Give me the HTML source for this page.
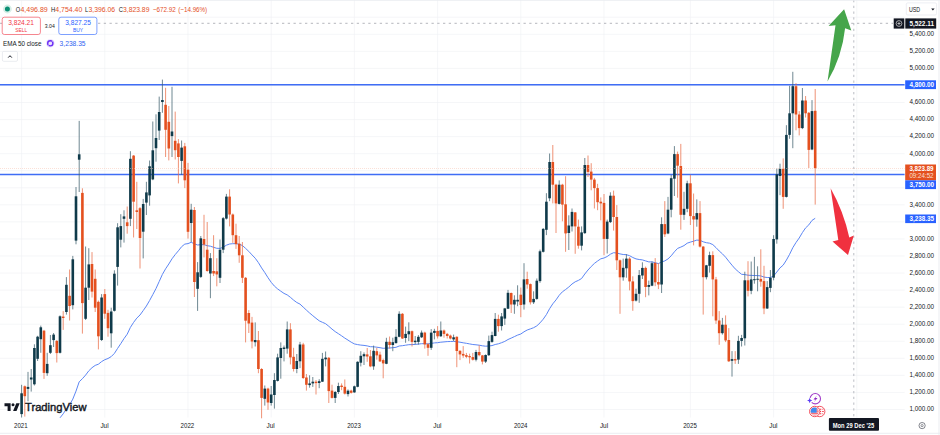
<!DOCTYPE html><html><head><meta charset="utf-8"><title>chart</title>
<style>html,body{margin:0;padding:0;background:#fff;}svg{display:block}text{font-family:"Liberation Sans",sans-serif;}</style></head><body>
<svg width="940" height="435" viewBox="0 0 940 435">
<rect width="940" height="435" fill="#ffffff"/>
<g stroke="#eef0f4" stroke-width="0.6" shape-rendering="auto">
<line x1="0" y1="409.49" x2="904.6" y2="409.49"/>
<line x1="0" y1="392.43" x2="904.6" y2="392.43"/>
<line x1="0" y1="375.38" x2="904.6" y2="375.38"/>
<line x1="0" y1="358.33" x2="904.6" y2="358.33"/>
<line x1="0" y1="341.27" x2="904.6" y2="341.27"/>
<line x1="0" y1="324.22" x2="904.6" y2="324.22"/>
<line x1="0" y1="307.16" x2="904.6" y2="307.16"/>
<line x1="0" y1="290.11" x2="904.6" y2="290.11"/>
<line x1="0" y1="273.06" x2="904.6" y2="273.06"/>
<line x1="0" y1="256.00" x2="904.6" y2="256.00"/>
<line x1="0" y1="238.95" x2="904.6" y2="238.95"/>
<line x1="0" y1="221.89" x2="904.6" y2="221.89"/>
<line x1="0" y1="204.84" x2="904.6" y2="204.84"/>
<line x1="0" y1="187.79" x2="904.6" y2="187.79"/>
<line x1="0" y1="170.73" x2="904.6" y2="170.73"/>
<line x1="0" y1="153.68" x2="904.6" y2="153.68"/>
<line x1="0" y1="136.62" x2="904.6" y2="136.62"/>
<line x1="0" y1="119.57" x2="904.6" y2="119.57"/>
<line x1="0" y1="102.52" x2="904.6" y2="102.52"/>
<line x1="0" y1="85.46" x2="904.6" y2="85.46"/>
<line x1="0" y1="68.41" x2="904.6" y2="68.41"/>
<line x1="0" y1="51.35" x2="904.6" y2="51.35"/>
<line x1="0" y1="34.30" x2="904.6" y2="34.30"/>
<line x1="0" y1="17.25" x2="904.6" y2="17.25"/>
<line x1="21.60" y1="0" x2="21.60" y2="417.5"/>
<line x1="104.80" y1="0" x2="104.80" y2="417.5"/>
<line x1="188.00" y1="0" x2="188.00" y2="417.5"/>
<line x1="271.20" y1="0" x2="271.20" y2="417.5"/>
<line x1="354.40" y1="0" x2="354.40" y2="417.5"/>
<line x1="437.60" y1="0" x2="437.60" y2="417.5"/>
<line x1="520.80" y1="0" x2="520.80" y2="417.5"/>
<line x1="604.00" y1="0" x2="604.00" y2="417.5"/>
<line x1="690.40" y1="0" x2="690.40" y2="417.5"/>
<line x1="773.60" y1="0" x2="773.60" y2="417.5"/>
<line x1="856.80" y1="0" x2="856.80" y2="417.5"/>
</g>
<line x1="0" y1="84.7" x2="904.6" y2="84.7" stroke="#3f6df5" stroke-width="1.4"/>
<line x1="0" y1="174.5" x2="904.6" y2="174.5" stroke="#3f6df5" stroke-width="1.4"/>
<path d="M60.0 417.8 L63.2 413.8 L66.4 408.8 L69.6 404.8 L72.8 399.1 L76.0 391.1 L79.2 381.8 L82.4 378.7 L85.6 375.1 L88.8 370.8 L92.0 367.7 L95.2 365.4 L98.4 364.2 L101.6 361.6 L104.8 359.7 L108.0 358.5 L111.2 356.6 L114.4 353.4 L117.6 348.4 L120.8 343.6 L124.0 338.6 L127.2 334.2 L130.4 327.4 L133.6 322.4 L136.8 318.1 L140.0 315.0 L143.2 310.6 L146.4 306.0 L149.6 300.5 L152.8 294.6 L156.0 288.5 L159.2 281.5 L162.4 274.4 L165.6 268.8 L168.8 264.0 L172.0 258.8 L175.2 254.6 L178.4 250.8 L181.6 246.7 L184.8 244.1 L188.0 243.6 L191.2 242.3 L194.4 243.8 L197.6 245.0 L200.8 244.7 L204.0 244.7 L207.2 245.7 L210.4 246.2 L213.6 247.3 L216.8 248.3 L220.0 248.4 L223.2 247.2 L226.4 245.2 L229.6 244.0 L232.8 243.7 L236.0 243.7 L239.2 244.2 L242.4 245.5 L245.6 248.4 L248.8 251.4 L252.0 254.9 L255.2 258.2 L258.4 262.6 L261.6 267.9 L264.8 272.6 L268.0 277.7 L271.2 282.3 L274.4 286.1 L277.6 288.9 L280.8 291.2 L284.0 293.4 L287.2 294.9 L290.4 297.3 L293.6 300.1 L296.8 302.5 L300.0 304.1 L303.2 307.1 L306.4 310.1 L309.6 313.0 L312.8 315.7 L316.0 318.3 L319.2 320.8 L322.4 322.3 L325.6 323.7 L328.8 326.3 L332.0 329.1 L335.2 331.6 L338.4 333.7 L341.6 335.8 L344.8 338.1 L348.0 340.1 L351.2 342.2 L354.4 343.9 L357.6 344.6 L360.8 345.1 L364.0 345.4 L367.2 345.9 L370.4 346.7 L373.6 346.8 L376.8 347.2 L380.0 347.7 L383.2 348.3 L386.4 348.1 L389.6 348.0 L392.8 347.7 L396.0 347.3 L399.2 346.0 L402.4 345.7 L405.6 345.2 L408.8 344.7 L412.0 344.6 L415.2 344.4 L418.4 344.1 L421.6 343.7 L424.8 343.7 L428.0 343.9 L431.2 343.4 L434.4 342.9 L437.6 342.7 L440.8 342.2 L444.0 341.9 L447.2 341.6 L450.4 341.5 L453.6 341.4 L456.8 341.7 L460.0 342.2 L463.2 342.8 L466.4 343.3 L469.6 343.9 L472.8 344.5 L476.0 344.8 L479.2 345.2 L482.4 345.8 L485.6 346.2 L488.8 346.0 L492.0 345.6 L495.2 344.5 L498.4 343.8 L501.6 342.7 L504.8 341.4 L508.0 339.5 L511.2 338.1 L514.4 336.6 L517.6 335.1 L520.8 334.0 L524.0 331.8 L527.2 330.0 L530.4 328.9 L533.6 327.7 L536.8 325.9 L540.0 322.9 L543.2 319.2 L546.4 314.6 L549.6 308.7 L552.8 303.8 L556.0 299.9 L559.2 295.3 L562.4 291.8 L565.6 289.5 L568.8 287.0 L572.0 284.0 L575.2 281.8 L578.4 280.4 L581.6 278.5 L584.8 274.0 L588.0 270.0 L591.2 266.5 L594.4 263.4 L597.6 261.0 L600.8 258.8 L604.0 258.0 L607.2 256.5 L610.4 254.2 L613.6 252.7 L616.8 253.0 L620.0 253.9 L623.2 254.5 L626.4 254.7 L629.6 255.7 L632.8 257.5 L636.0 258.9 L639.2 259.5 L642.4 259.9 L645.6 260.9 L648.8 261.9 L652.0 261.9 L655.2 262.7 L658.4 263.6 L661.6 262.0 L664.8 260.9 L668.0 258.9 L671.2 255.8 L674.4 251.8 L677.6 248.4 L680.8 247.1 L684.0 245.6 L687.2 243.2 L690.4 242.1 L693.6 241.2 L696.8 240.1 L700.0 240.3 L703.2 241.8 L706.4 242.7 L709.6 243.2 L712.8 244.6 L716.0 247.6 L719.2 251.0 L722.4 253.8 L725.6 257.2 L728.8 261.3 L732.0 265.2 L735.2 268.9 L738.4 271.7 L741.6 274.3 L744.8 274.6 L748.0 275.2 L751.2 275.4 L754.4 275.5 L757.6 275.6 L760.8 275.9 L764.0 277.1 L767.2 277.5 L770.4 277.5 L773.6 276.0 L776.8 272.0 L780.0 267.9 L783.2 265.1 L786.4 260.1 L789.6 254.3 L792.8 247.7 L796.0 242.5 L799.2 238.0 L802.4 232.6 L805.6 227.9 L808.8 224.9 L812.0 220.4 L815.2 218.3" fill="none" stroke="#5c86f4" stroke-width="1.0" stroke-linejoin="round"/>
<g>
<line x1="21.60" y1="384.8" x2="21.60" y2="417.5" stroke="#3f606d" stroke-width="0.75"/>
<rect x="20.30" y="393.3" width="2.6" height="20.8" fill="#0f3a4a"/>
<line x1="24.80" y1="385.5" x2="24.80" y2="416.6" stroke="#ea6e48" stroke-width="0.75"/>
<rect x="23.50" y="386.3" width="2.6" height="9.9" fill="#e4501f"/>
<line x1="28.00" y1="371.9" x2="28.00" y2="401.3" stroke="#3f606d" stroke-width="0.75"/>
<rect x="26.70" y="386.9" width="2.6" height="2.0" fill="#0f3a4a"/>
<line x1="31.20" y1="369.0" x2="31.20" y2="391.6" stroke="#3f606d" stroke-width="0.75"/>
<rect x="29.90" y="377.5" width="2.6" height="2.0" fill="#0f3a4a"/>
<line x1="34.40" y1="344.3" x2="34.40" y2="385.5" stroke="#3f606d" stroke-width="0.75"/>
<rect x="33.10" y="348.0" width="2.6" height="36.3" fill="#0f3a4a"/>
<line x1="37.60" y1="335.8" x2="37.60" y2="361.0" stroke="#3f606d" stroke-width="0.75"/>
<rect x="36.30" y="336.7" width="2.6" height="22.1" fill="#0f3a4a"/>
<line x1="40.80" y1="325.6" x2="40.80" y2="352.8" stroke="#3f606d" stroke-width="0.75"/>
<rect x="39.50" y="327.3" width="2.6" height="11.9" fill="#0f3a4a"/>
<line x1="44.00" y1="329.9" x2="44.00" y2="378.9" stroke="#ea6e48" stroke-width="0.75"/>
<rect x="42.70" y="330.7" width="2.6" height="42.2" fill="#e4501f"/>
<line x1="47.20" y1="352.8" x2="47.20" y2="375.8" stroke="#3f606d" stroke-width="0.75"/>
<rect x="45.90" y="363.9" width="2.6" height="9.3" fill="#0f3a4a"/>
<line x1="50.40" y1="335.0" x2="50.40" y2="354.0" stroke="#3f606d" stroke-width="0.75"/>
<rect x="49.10" y="345.2" width="2.6" height="7.6" fill="#0f3a4a"/>
<line x1="53.60" y1="333.0" x2="53.60" y2="347.0" stroke="#3f606d" stroke-width="0.75"/>
<rect x="52.30" y="334.6" width="2.6" height="5.5" fill="#0f3a4a"/>
<line x1="56.80" y1="340.0" x2="56.80" y2="362.5" stroke="#ea6e48" stroke-width="0.75"/>
<rect x="55.50" y="340.9" width="2.6" height="12.2" fill="#e4501f"/>
<line x1="60.00" y1="315.4" x2="60.00" y2="353.5" stroke="#3f606d" stroke-width="0.75"/>
<rect x="58.70" y="316.3" width="2.6" height="36.5" fill="#0f3a4a"/>
<line x1="63.20" y1="311.1" x2="63.20" y2="329.9" stroke="#ea6e48" stroke-width="0.75"/>
<rect x="61.90" y="316.6" width="2.6" height="1.4" fill="#e4501f"/>
<line x1="66.40" y1="277.1" x2="66.40" y2="314.6" stroke="#3f606d" stroke-width="0.75"/>
<rect x="65.10" y="284.8" width="2.6" height="27.2" fill="#0f3a4a"/>
<line x1="69.60" y1="269.5" x2="69.60" y2="320.5" stroke="#ea6e48" stroke-width="0.75"/>
<rect x="68.30" y="295.8" width="2.6" height="10.2" fill="#e4501f"/>
<line x1="72.80" y1="255.9" x2="72.80" y2="309.4" stroke="#3f606d" stroke-width="0.75"/>
<rect x="71.50" y="259.3" width="2.6" height="45.9" fill="#0f3a4a"/>
<line x1="76.00" y1="187.0" x2="76.00" y2="244.3" stroke="#3f606d" stroke-width="0.75"/>
<rect x="74.70" y="196.3" width="2.6" height="44.3" fill="#0f3a4a"/>
<line x1="79.20" y1="120.9" x2="79.20" y2="192.0" stroke="#3f606d" stroke-width="0.75"/>
<rect x="77.90" y="154.3" width="2.6" height="5.4" fill="#0f3a4a"/>
<line x1="82.40" y1="188.3" x2="82.40" y2="333.6" stroke="#ea6e48" stroke-width="0.75"/>
<rect x="81.10" y="192.9" width="2.6" height="110.2" fill="#e4501f"/>
<line x1="85.60" y1="246.5" x2="85.60" y2="320.0" stroke="#3f606d" stroke-width="0.75"/>
<rect x="84.30" y="287.7" width="2.6" height="31.1" fill="#0f3a4a"/>
<line x1="88.80" y1="248.2" x2="88.80" y2="300.0" stroke="#3f606d" stroke-width="0.75"/>
<rect x="87.50" y="264.4" width="2.6" height="23.3" fill="#0f3a4a"/>
<line x1="92.00" y1="252.1" x2="92.00" y2="297.5" stroke="#ea6e48" stroke-width="0.75"/>
<rect x="90.70" y="264.0" width="2.6" height="27.6" fill="#e4501f"/>
<line x1="95.20" y1="269.5" x2="95.20" y2="312.0" stroke="#ea6e48" stroke-width="0.75"/>
<rect x="93.90" y="278.8" width="2.6" height="28.9" fill="#e4501f"/>
<line x1="98.40" y1="300.5" x2="98.40" y2="349.4" stroke="#ea6e48" stroke-width="0.75"/>
<rect x="97.10" y="301.8" width="2.6" height="34.5" fill="#e4501f"/>
<line x1="101.60" y1="294.1" x2="101.60" y2="341.0" stroke="#3f606d" stroke-width="0.75"/>
<rect x="100.30" y="297.5" width="2.6" height="42.5" fill="#0f3a4a"/>
<line x1="104.80" y1="289.0" x2="104.80" y2="318.8" stroke="#ea6e48" stroke-width="0.75"/>
<rect x="103.50" y="294.1" width="2.6" height="19.6" fill="#e4501f"/>
<line x1="108.00" y1="309.8" x2="108.00" y2="336.7" stroke="#ea6e48" stroke-width="0.75"/>
<rect x="106.70" y="312.9" width="2.6" height="15.3" fill="#e4501f"/>
<line x1="111.20" y1="307.7" x2="111.20" y2="347.7" stroke="#3f606d" stroke-width="0.75"/>
<rect x="109.90" y="311.5" width="2.6" height="21.8" fill="#0f3a4a"/>
<line x1="114.40" y1="270.3" x2="114.40" y2="311.5" stroke="#3f606d" stroke-width="0.75"/>
<rect x="113.10" y="273.7" width="2.6" height="37.1" fill="#0f3a4a"/>
<line x1="117.60" y1="223.2" x2="117.60" y2="285.6" stroke="#3f606d" stroke-width="0.75"/>
<rect x="116.30" y="227.3" width="2.6" height="39.6" fill="#0f3a4a"/>
<line x1="120.80" y1="214.2" x2="120.80" y2="247.4" stroke="#3f606d" stroke-width="0.75"/>
<rect x="119.50" y="226.1" width="2.6" height="13.6" fill="#0f3a4a"/>
<line x1="124.00" y1="210.3" x2="124.00" y2="242.6" stroke="#3f606d" stroke-width="0.75"/>
<rect x="122.70" y="216.4" width="2.6" height="2.4" fill="#0f3a4a"/>
<line x1="127.20" y1="206.5" x2="127.20" y2="233.7" stroke="#ea6e48" stroke-width="0.75"/>
<rect x="125.90" y="222.3" width="2.6" height="3.8" fill="#e4501f"/>
<line x1="130.40" y1="151.2" x2="130.40" y2="226.1" stroke="#3f606d" stroke-width="0.75"/>
<rect x="129.10" y="158.8" width="2.6" height="60.0" fill="#0f3a4a"/>
<line x1="133.60" y1="155.0" x2="133.60" y2="237.5" stroke="#ea6e48" stroke-width="0.75"/>
<rect x="132.30" y="155.6" width="2.6" height="46.1" fill="#e4501f"/>
<line x1="136.80" y1="181.8" x2="136.80" y2="229.0" stroke="#ea6e48" stroke-width="0.75"/>
<rect x="135.50" y="210.3" width="2.6" height="1.7" fill="#e4501f"/>
<line x1="140.00" y1="207.0" x2="140.00" y2="268.5" stroke="#ea6e48" stroke-width="0.75"/>
<rect x="138.70" y="208.2" width="2.6" height="29.8" fill="#e4501f"/>
<line x1="143.20" y1="198.9" x2="143.20" y2="258.4" stroke="#3f606d" stroke-width="0.75"/>
<rect x="141.90" y="204.0" width="2.6" height="27.7" fill="#0f3a4a"/>
<line x1="146.40" y1="181.8" x2="146.40" y2="215.0" stroke="#3f606d" stroke-width="0.75"/>
<rect x="145.10" y="192.4" width="2.6" height="10.2" fill="#0f3a4a"/>
<line x1="149.60" y1="160.5" x2="149.60" y2="205.7" stroke="#3f606d" stroke-width="0.75"/>
<rect x="148.30" y="166.3" width="2.6" height="29.1" fill="#0f3a4a"/>
<line x1="152.80" y1="121.5" x2="152.80" y2="180.2" stroke="#3f606d" stroke-width="0.75"/>
<rect x="151.50" y="150.3" width="2.6" height="29.1" fill="#0f3a4a"/>
<line x1="156.00" y1="114.3" x2="156.00" y2="161.7" stroke="#3f606d" stroke-width="0.75"/>
<rect x="154.70" y="138.0" width="2.6" height="10.2" fill="#0f3a4a"/>
<line x1="159.20" y1="96.6" x2="159.20" y2="140.0" stroke="#3f606d" stroke-width="0.75"/>
<rect x="157.90" y="112.0" width="2.6" height="18.6" fill="#0f3a4a"/>
<line x1="162.40" y1="79.6" x2="162.40" y2="112.8" stroke="#3f606d" stroke-width="0.75"/>
<rect x="161.10" y="100.0" width="2.6" height="2.0" fill="#0f3a4a"/>
<line x1="165.60" y1="87.8" x2="165.60" y2="157.0" stroke="#ea6e48" stroke-width="0.75"/>
<rect x="164.30" y="104.8" width="2.6" height="25.0" fill="#e4501f"/>
<line x1="168.80" y1="106.0" x2="168.80" y2="160.4" stroke="#ea6e48" stroke-width="0.75"/>
<rect x="167.50" y="121.8" width="2.6" height="26.7" fill="#e4501f"/>
<line x1="172.00" y1="86.8" x2="172.00" y2="157.0" stroke="#3f606d" stroke-width="0.75"/>
<rect x="170.70" y="131.5" width="2.6" height="4.6" fill="#0f3a4a"/>
<line x1="175.20" y1="111.6" x2="175.20" y2="159.5" stroke="#ea6e48" stroke-width="0.75"/>
<rect x="173.90" y="140.8" width="2.6" height="9.4" fill="#e4501f"/>
<line x1="178.40" y1="139.1" x2="178.40" y2="183.4" stroke="#ea6e48" stroke-width="0.75"/>
<rect x="177.10" y="143.4" width="2.6" height="13.6" fill="#e4501f"/>
<line x1="181.60" y1="140.5" x2="181.60" y2="174.9" stroke="#3f606d" stroke-width="0.75"/>
<rect x="180.30" y="147.6" width="2.6" height="13.3" fill="#0f3a4a"/>
<line x1="184.80" y1="142.9" x2="184.80" y2="188.1" stroke="#ea6e48" stroke-width="0.75"/>
<rect x="183.50" y="146.3" width="2.6" height="34.0" fill="#e4501f"/>
<line x1="188.00" y1="162.9" x2="188.00" y2="238.6" stroke="#ea6e48" stroke-width="0.75"/>
<rect x="186.70" y="169.7" width="2.6" height="62.1" fill="#e4501f"/>
<line x1="191.20" y1="203.8" x2="191.20" y2="242.0" stroke="#3f606d" stroke-width="0.75"/>
<rect x="189.90" y="209.7" width="2.6" height="13.3" fill="#0f3a4a"/>
<line x1="194.40" y1="207.0" x2="194.40" y2="297.0" stroke="#ea6e48" stroke-width="0.75"/>
<rect x="193.10" y="210.0" width="2.6" height="72.0" fill="#e4501f"/>
<line x1="197.60" y1="262.1" x2="197.60" y2="310.9" stroke="#3f606d" stroke-width="0.75"/>
<rect x="196.30" y="272.3" width="2.6" height="16.5" fill="#0f3a4a"/>
<line x1="200.80" y1="236.0" x2="200.80" y2="278.0" stroke="#3f606d" stroke-width="0.75"/>
<rect x="199.50" y="238.3" width="2.6" height="38.6" fill="#0f3a4a"/>
<line x1="204.00" y1="214.8" x2="204.00" y2="257.4" stroke="#ea6e48" stroke-width="0.75"/>
<rect x="202.70" y="239.0" width="2.6" height="5.6" fill="#e4501f"/>
<line x1="207.20" y1="222.0" x2="207.20" y2="271.8" stroke="#ea6e48" stroke-width="0.75"/>
<rect x="205.90" y="249.7" width="2.6" height="21.3" fill="#e4501f"/>
<line x1="210.40" y1="253.1" x2="210.40" y2="298.2" stroke="#3f606d" stroke-width="0.75"/>
<rect x="209.10" y="258.2" width="2.6" height="15.3" fill="#0f3a4a"/>
<line x1="213.60" y1="235.2" x2="213.60" y2="276.1" stroke="#ea6e48" stroke-width="0.75"/>
<rect x="212.30" y="271.0" width="2.6" height="2.5" fill="#e4501f"/>
<line x1="216.80" y1="258.2" x2="216.80" y2="286.3" stroke="#ea6e48" stroke-width="0.75"/>
<rect x="215.50" y="271.3" width="2.6" height="3.1" fill="#e4501f"/>
<line x1="220.00" y1="239.5" x2="220.00" y2="283.0" stroke="#3f606d" stroke-width="0.75"/>
<rect x="218.70" y="249.7" width="2.6" height="28.1" fill="#0f3a4a"/>
<line x1="223.20" y1="217.0" x2="223.20" y2="253.1" stroke="#3f606d" stroke-width="0.75"/>
<rect x="221.90" y="218.2" width="2.6" height="31.5" fill="#0f3a4a"/>
<line x1="226.40" y1="193.9" x2="226.40" y2="219.5" stroke="#3f606d" stroke-width="0.75"/>
<rect x="225.10" y="196.6" width="2.6" height="22.0" fill="#0f3a4a"/>
<line x1="229.60" y1="189.3" x2="229.60" y2="226.4" stroke="#ea6e48" stroke-width="0.75"/>
<rect x="228.30" y="196.6" width="2.6" height="17.9" fill="#e4501f"/>
<line x1="232.80" y1="213.5" x2="232.80" y2="242.9" stroke="#ea6e48" stroke-width="0.75"/>
<rect x="231.50" y="214.5" width="2.6" height="20.7" fill="#e4501f"/>
<line x1="236.00" y1="223.7" x2="236.00" y2="248.9" stroke="#ea6e48" stroke-width="0.75"/>
<rect x="234.70" y="235.2" width="2.6" height="8.9" fill="#e4501f"/>
<line x1="239.20" y1="236.0" x2="239.20" y2="262.8" stroke="#ea6e48" stroke-width="0.75"/>
<rect x="237.90" y="243.7" width="2.6" height="11.6" fill="#e4501f"/>
<line x1="242.40" y1="242.0" x2="242.40" y2="283.0" stroke="#ea6e48" stroke-width="0.75"/>
<rect x="241.10" y="255.3" width="2.6" height="22.5" fill="#e4501f"/>
<line x1="245.60" y1="277.0" x2="245.60" y2="342.4" stroke="#ea6e48" stroke-width="0.75"/>
<rect x="244.30" y="277.8" width="2.6" height="42.9" fill="#e4501f"/>
<line x1="248.80" y1="310.1" x2="248.80" y2="333.0" stroke="#ea6e48" stroke-width="0.75"/>
<rect x="247.50" y="313.0" width="2.6" height="10.5" fill="#e4501f"/>
<line x1="252.00" y1="316.9" x2="252.00" y2="348.4" stroke="#ea6e48" stroke-width="0.75"/>
<rect x="250.70" y="322.6" width="2.6" height="18.9" fill="#e4501f"/>
<line x1="255.20" y1="322.4" x2="255.20" y2="346.5" stroke="#3f606d" stroke-width="0.75"/>
<rect x="253.90" y="340.0" width="2.6" height="2.2" fill="#0f3a4a"/>
<line x1="258.40" y1="331.0" x2="258.40" y2="373.2" stroke="#ea6e48" stroke-width="0.75"/>
<rect x="257.10" y="340.2" width="2.6" height="28.8" fill="#e4501f"/>
<line x1="261.60" y1="368.1" x2="261.60" y2="418.3" stroke="#ea6e48" stroke-width="0.75"/>
<rect x="260.30" y="369.0" width="2.6" height="28.9" fill="#e4501f"/>
<line x1="264.80" y1="385.5" x2="264.80" y2="405.6" stroke="#3f606d" stroke-width="0.75"/>
<rect x="263.50" y="388.6" width="2.6" height="10.2" fill="#0f3a4a"/>
<line x1="268.00" y1="387.7" x2="268.00" y2="409.8" stroke="#ea6e48" stroke-width="0.75"/>
<rect x="266.70" y="388.6" width="2.6" height="13.9" fill="#e4501f"/>
<line x1="271.20" y1="386.0" x2="271.20" y2="405.6" stroke="#3f606d" stroke-width="0.75"/>
<rect x="269.90" y="394.5" width="2.6" height="8.5" fill="#0f3a4a"/>
<line x1="274.40" y1="373.2" x2="274.40" y2="408.6" stroke="#3f606d" stroke-width="0.75"/>
<rect x="273.10" y="380.0" width="2.6" height="15.0" fill="#0f3a4a"/>
<line x1="277.60" y1="353.7" x2="277.60" y2="381.5" stroke="#3f606d" stroke-width="0.75"/>
<rect x="276.30" y="357.4" width="2.6" height="23.5" fill="#0f3a4a"/>
<line x1="280.80" y1="342.4" x2="280.80" y2="378.7" stroke="#3f606d" stroke-width="0.75"/>
<rect x="279.50" y="348.0" width="2.6" height="10.0" fill="#0f3a4a"/>
<line x1="284.00" y1="345.5" x2="284.00" y2="361.4" stroke="#3f606d" stroke-width="0.75"/>
<rect x="282.70" y="347.5" width="2.6" height="1.5" fill="#0f3a4a"/>
<line x1="287.20" y1="321.5" x2="287.20" y2="353.7" stroke="#3f606d" stroke-width="0.75"/>
<rect x="285.90" y="329.4" width="2.6" height="19.2" fill="#0f3a4a"/>
<line x1="290.40" y1="323.2" x2="290.40" y2="364.4" stroke="#ea6e48" stroke-width="0.75"/>
<rect x="289.10" y="329.4" width="2.6" height="28.0" fill="#e4501f"/>
<line x1="293.60" y1="347.8" x2="293.60" y2="371.5" stroke="#ea6e48" stroke-width="0.75"/>
<rect x="292.30" y="356.8" width="2.6" height="12.2" fill="#e4501f"/>
<line x1="296.80" y1="354.0" x2="296.80" y2="373.2" stroke="#3f606d" stroke-width="0.75"/>
<rect x="295.50" y="361.0" width="2.6" height="8.0" fill="#0f3a4a"/>
<line x1="300.00" y1="341.9" x2="300.00" y2="368.1" stroke="#3f606d" stroke-width="0.75"/>
<rect x="298.70" y="344.5" width="2.6" height="16.8" fill="#0f3a4a"/>
<line x1="303.20" y1="342.8" x2="303.20" y2="379.0" stroke="#ea6e48" stroke-width="0.75"/>
<rect x="301.90" y="344.5" width="2.6" height="33.5" fill="#e4501f"/>
<line x1="306.40" y1="374.0" x2="306.40" y2="390.6" stroke="#ea6e48" stroke-width="0.75"/>
<rect x="305.10" y="377.5" width="2.6" height="7.3" fill="#e4501f"/>
<line x1="309.60" y1="375.3" x2="309.60" y2="387.7" stroke="#3f606d" stroke-width="0.75"/>
<rect x="308.30" y="383.4" width="2.6" height="1.7" fill="#0f3a4a"/>
<line x1="312.80" y1="377.0" x2="312.80" y2="386.9" stroke="#3f606d" stroke-width="0.75"/>
<rect x="311.50" y="381.7" width="2.6" height="1.7" fill="#0f3a4a"/>
<line x1="316.00" y1="380.0" x2="316.00" y2="394.5" stroke="#ea6e48" stroke-width="0.75"/>
<rect x="314.70" y="381.7" width="2.6" height="1.4" fill="#e4501f"/>
<line x1="319.20" y1="379.2" x2="319.20" y2="388.2" stroke="#3f606d" stroke-width="0.75"/>
<rect x="317.90" y="381.2" width="2.6" height="1.8" fill="#0f3a4a"/>
<line x1="322.40" y1="352.9" x2="322.40" y2="382.0" stroke="#3f606d" stroke-width="0.75"/>
<rect x="321.10" y="358.8" width="2.6" height="22.9" fill="#0f3a4a"/>
<line x1="325.60" y1="351.5" x2="325.60" y2="366.4" stroke="#3f606d" stroke-width="0.75"/>
<rect x="324.30" y="357.6" width="2.6" height="1.7" fill="#0f3a4a"/>
<line x1="328.80" y1="357.0" x2="328.80" y2="403.0" stroke="#ea6e48" stroke-width="0.75"/>
<rect x="327.50" y="357.8" width="2.6" height="33.3" fill="#e4501f"/>
<line x1="332.00" y1="384.7" x2="332.00" y2="398.5" stroke="#ea6e48" stroke-width="0.75"/>
<rect x="330.70" y="390.6" width="2.6" height="7.3" fill="#e4501f"/>
<line x1="335.20" y1="391.0" x2="335.20" y2="403.0" stroke="#3f606d" stroke-width="0.75"/>
<rect x="333.90" y="392.0" width="2.6" height="5.9" fill="#0f3a4a"/>
<line x1="338.40" y1="382.7" x2="338.40" y2="394.0" stroke="#3f606d" stroke-width="0.75"/>
<rect x="337.10" y="386.0" width="2.6" height="6.0" fill="#0f3a4a"/>
<line x1="341.60" y1="383.4" x2="341.60" y2="390.2" stroke="#ea6e48" stroke-width="0.75"/>
<rect x="340.30" y="385.6" width="2.6" height="1.4" fill="#e4501f"/>
<line x1="344.80" y1="379.5" x2="344.80" y2="394.5" stroke="#ea6e48" stroke-width="0.75"/>
<rect x="343.50" y="386.8" width="2.6" height="6.8" fill="#e4501f"/>
<line x1="348.00" y1="389.4" x2="348.00" y2="396.5" stroke="#3f606d" stroke-width="0.75"/>
<rect x="346.70" y="390.7" width="2.6" height="3.4" fill="#0f3a4a"/>
<line x1="351.20" y1="389.7" x2="351.20" y2="393.6" stroke="#ea6e48" stroke-width="0.75"/>
<rect x="349.90" y="390.6" width="2.6" height="2.2" fill="#e4501f"/>
<line x1="354.40" y1="385.6" x2="354.40" y2="392.8" stroke="#3f606d" stroke-width="0.75"/>
<rect x="353.10" y="386.3" width="2.6" height="6.1" fill="#0f3a4a"/>
<line x1="357.60" y1="361.3" x2="357.60" y2="387.3" stroke="#3f606d" stroke-width="0.75"/>
<rect x="356.30" y="361.8" width="2.6" height="25.0" fill="#0f3a4a"/>
<line x1="360.80" y1="351.2" x2="360.80" y2="366.4" stroke="#3f606d" stroke-width="0.75"/>
<rect x="359.50" y="355.8" width="2.6" height="6.9" fill="#0f3a4a"/>
<line x1="364.00" y1="352.4" x2="364.00" y2="365.0" stroke="#3f606d" stroke-width="0.75"/>
<rect x="362.70" y="354.2" width="2.6" height="2.1" fill="#0f3a4a"/>
<line x1="367.20" y1="348.0" x2="367.20" y2="361.8" stroke="#ea6e48" stroke-width="0.75"/>
<rect x="365.90" y="354.4" width="2.6" height="2.1" fill="#e4501f"/>
<line x1="370.40" y1="350.0" x2="370.40" y2="367.2" stroke="#ea6e48" stroke-width="0.75"/>
<rect x="369.10" y="356.3" width="2.6" height="10.1" fill="#e4501f"/>
<line x1="373.60" y1="345.6" x2="373.60" y2="369.8" stroke="#3f606d" stroke-width="0.75"/>
<rect x="372.30" y="350.8" width="2.6" height="15.6" fill="#0f3a4a"/>
<line x1="376.80" y1="347.8" x2="376.80" y2="359.7" stroke="#ea6e48" stroke-width="0.75"/>
<rect x="375.50" y="351.2" width="2.6" height="4.2" fill="#e4501f"/>
<line x1="380.00" y1="351.7" x2="380.00" y2="362.0" stroke="#ea6e48" stroke-width="0.75"/>
<rect x="378.70" y="354.6" width="2.6" height="6.8" fill="#e4501f"/>
<line x1="383.20" y1="358.7" x2="383.20" y2="378.3" stroke="#ea6e48" stroke-width="0.75"/>
<rect x="381.90" y="360.1" width="2.6" height="3.3" fill="#e4501f"/>
<line x1="386.40" y1="337.8" x2="386.40" y2="364.2" stroke="#3f606d" stroke-width="0.75"/>
<rect x="385.10" y="341.8" width="2.6" height="22.0" fill="#0f3a4a"/>
<line x1="389.60" y1="336.5" x2="389.60" y2="348.6" stroke="#ea6e48" stroke-width="0.75"/>
<rect x="388.30" y="341.8" width="2.6" height="3.2" fill="#e4501f"/>
<line x1="392.80" y1="337.7" x2="392.80" y2="351.2" stroke="#3f606d" stroke-width="0.75"/>
<rect x="391.50" y="342.2" width="2.6" height="2.8" fill="#0f3a4a"/>
<line x1="396.00" y1="329.1" x2="396.00" y2="343.6" stroke="#3f606d" stroke-width="0.75"/>
<rect x="394.70" y="336.8" width="2.6" height="6.3" fill="#0f3a4a"/>
<line x1="399.20" y1="311.3" x2="399.20" y2="337.3" stroke="#3f606d" stroke-width="0.75"/>
<rect x="397.90" y="313.8" width="2.6" height="23.0" fill="#0f3a4a"/>
<line x1="402.40" y1="313.0" x2="402.40" y2="339.0" stroke="#ea6e48" stroke-width="0.75"/>
<rect x="401.10" y="313.8" width="2.6" height="24.7" fill="#e4501f"/>
<line x1="405.60" y1="326.6" x2="405.60" y2="342.8" stroke="#3f606d" stroke-width="0.75"/>
<rect x="404.30" y="333.9" width="2.6" height="4.1" fill="#0f3a4a"/>
<line x1="408.80" y1="322.3" x2="408.80" y2="341.1" stroke="#3f606d" stroke-width="0.75"/>
<rect x="407.50" y="331.2" width="2.6" height="3.1" fill="#0f3a4a"/>
<line x1="412.00" y1="330.5" x2="412.00" y2="346.5" stroke="#ea6e48" stroke-width="0.75"/>
<rect x="410.70" y="331.2" width="2.6" height="10.7" fill="#e4501f"/>
<line x1="415.20" y1="336.0" x2="415.20" y2="344.4" stroke="#3f606d" stroke-width="0.75"/>
<rect x="413.90" y="340.7" width="2.6" height="1.4" fill="#0f3a4a"/>
<line x1="418.40" y1="335.1" x2="418.40" y2="344.6" stroke="#3f606d" stroke-width="0.75"/>
<rect x="417.10" y="336.8" width="2.6" height="5.1" fill="#0f3a4a"/>
<line x1="421.60" y1="330.5" x2="421.60" y2="338.0" stroke="#3f606d" stroke-width="0.75"/>
<rect x="420.30" y="332.6" width="2.6" height="4.7" fill="#0f3a4a"/>
<line x1="424.80" y1="331.7" x2="424.80" y2="348.6" stroke="#ea6e48" stroke-width="0.75"/>
<rect x="423.50" y="332.6" width="2.6" height="11.8" fill="#e4501f"/>
<line x1="428.00" y1="342.8" x2="428.00" y2="355.8" stroke="#ea6e48" stroke-width="0.75"/>
<rect x="426.70" y="344.2" width="2.6" height="3.6" fill="#e4501f"/>
<line x1="431.20" y1="329.1" x2="431.20" y2="349.9" stroke="#3f606d" stroke-width="0.75"/>
<rect x="429.90" y="332.6" width="2.6" height="15.2" fill="#0f3a4a"/>
<line x1="434.40" y1="328.8" x2="434.40" y2="339.4" stroke="#3f606d" stroke-width="0.75"/>
<rect x="433.10" y="330.9" width="2.6" height="2.0" fill="#0f3a4a"/>
<line x1="437.60" y1="326.1" x2="437.60" y2="338.5" stroke="#ea6e48" stroke-width="0.75"/>
<rect x="436.30" y="330.9" width="2.6" height="5.4" fill="#e4501f"/>
<line x1="440.80" y1="321.5" x2="440.80" y2="336.8" stroke="#3f606d" stroke-width="0.75"/>
<rect x="439.50" y="330.5" width="2.6" height="5.8" fill="#0f3a4a"/>
<line x1="444.00" y1="329.5" x2="444.00" y2="337.7" stroke="#ea6e48" stroke-width="0.75"/>
<rect x="442.70" y="330.5" width="2.6" height="3.4" fill="#e4501f"/>
<line x1="447.20" y1="332.9" x2="447.20" y2="338.5" stroke="#ea6e48" stroke-width="0.75"/>
<rect x="445.90" y="333.9" width="2.6" height="2.1" fill="#e4501f"/>
<line x1="450.40" y1="334.6" x2="450.40" y2="339.4" stroke="#ea6e48" stroke-width="0.75"/>
<rect x="449.10" y="335.6" width="2.6" height="2.9" fill="#e4501f"/>
<line x1="453.60" y1="334.6" x2="453.60" y2="341.1" stroke="#3f606d" stroke-width="0.75"/>
<rect x="452.30" y="337.3" width="2.6" height="2.1" fill="#0f3a4a"/>
<line x1="456.80" y1="336.3" x2="456.80" y2="367.2" stroke="#ea6e48" stroke-width="0.75"/>
<rect x="455.50" y="336.8" width="2.6" height="14.2" fill="#e4501f"/>
<line x1="460.00" y1="350.3" x2="460.00" y2="360.1" stroke="#ea6e48" stroke-width="0.75"/>
<rect x="458.70" y="350.8" width="2.6" height="3.6" fill="#e4501f"/>
<line x1="463.20" y1="346.1" x2="463.20" y2="357.8" stroke="#ea6e48" stroke-width="0.75"/>
<rect x="461.90" y="353.9" width="2.6" height="1.7" fill="#e4501f"/>
<line x1="466.40" y1="352.9" x2="466.40" y2="358.2" stroke="#ea6e48" stroke-width="0.75"/>
<rect x="465.10" y="355.1" width="2.6" height="1.7" fill="#e4501f"/>
<line x1="469.60" y1="353.7" x2="469.60" y2="363.5" stroke="#ea6e48" stroke-width="0.75"/>
<rect x="468.30" y="356.1" width="2.6" height="1.2" fill="#e4501f"/>
<line x1="472.80" y1="352.9" x2="472.80" y2="360.5" stroke="#ea6e48" stroke-width="0.75"/>
<rect x="471.50" y="357.1" width="2.6" height="2.6" fill="#e4501f"/>
<line x1="476.00" y1="349.9" x2="476.00" y2="361.4" stroke="#3f606d" stroke-width="0.75"/>
<rect x="474.70" y="352.0" width="2.6" height="7.7" fill="#0f3a4a"/>
<line x1="479.20" y1="345.2" x2="479.20" y2="356.3" stroke="#ea6e48" stroke-width="0.75"/>
<rect x="477.90" y="352.0" width="2.6" height="3.2" fill="#e4501f"/>
<line x1="482.40" y1="355.0" x2="482.40" y2="364.4" stroke="#ea6e48" stroke-width="0.75"/>
<rect x="481.10" y="355.4" width="2.6" height="6.2" fill="#e4501f"/>
<line x1="485.60" y1="354.4" x2="485.60" y2="363.0" stroke="#3f606d" stroke-width="0.75"/>
<rect x="484.30" y="355.0" width="2.6" height="6.6" fill="#0f3a4a"/>
<line x1="488.80" y1="335.6" x2="488.80" y2="356.0" stroke="#3f606d" stroke-width="0.75"/>
<rect x="487.50" y="341.1" width="2.6" height="14.1" fill="#0f3a4a"/>
<line x1="492.00" y1="331.7" x2="492.00" y2="342.8" stroke="#3f606d" stroke-width="0.75"/>
<rect x="490.70" y="335.1" width="2.6" height="6.8" fill="#0f3a4a"/>
<line x1="495.20" y1="313.0" x2="495.20" y2="336.3" stroke="#3f606d" stroke-width="0.75"/>
<rect x="493.90" y="318.9" width="2.6" height="17.1" fill="#0f3a4a"/>
<line x1="498.40" y1="314.7" x2="498.40" y2="331.7" stroke="#ea6e48" stroke-width="0.75"/>
<rect x="497.10" y="318.9" width="2.6" height="7.2" fill="#e4501f"/>
<line x1="501.60" y1="313.0" x2="501.60" y2="330.5" stroke="#3f606d" stroke-width="0.75"/>
<rect x="500.30" y="316.4" width="2.6" height="9.7" fill="#0f3a4a"/>
<line x1="504.80" y1="307.9" x2="504.80" y2="324.9" stroke="#3f606d" stroke-width="0.75"/>
<rect x="503.50" y="308.4" width="2.6" height="10.2" fill="#0f3a4a"/>
<line x1="508.00" y1="289.9" x2="508.00" y2="309.0" stroke="#3f606d" stroke-width="0.75"/>
<rect x="506.70" y="292.8" width="2.6" height="15.9" fill="#0f3a4a"/>
<line x1="511.20" y1="292.5" x2="511.20" y2="313.0" stroke="#ea6e48" stroke-width="0.75"/>
<rect x="509.90" y="293.0" width="2.6" height="11.5" fill="#e4501f"/>
<line x1="514.40" y1="295.3" x2="514.40" y2="313.8" stroke="#3f606d" stroke-width="0.75"/>
<rect x="513.10" y="299.8" width="2.6" height="4.7" fill="#0f3a4a"/>
<line x1="517.60" y1="285.3" x2="517.60" y2="306.2" stroke="#3f606d" stroke-width="0.75"/>
<rect x="516.30" y="299.8" width="2.6" height="1.7" fill="#0f3a4a"/>
<line x1="520.80" y1="287.5" x2="520.80" y2="317.2" stroke="#ea6e48" stroke-width="0.75"/>
<rect x="519.50" y="294.7" width="2.6" height="10.3" fill="#e4501f"/>
<line x1="524.00" y1="263.2" x2="524.00" y2="309.6" stroke="#3f606d" stroke-width="0.75"/>
<rect x="522.70" y="279.4" width="2.6" height="25.1" fill="#0f3a4a"/>
<line x1="527.20" y1="271.7" x2="527.20" y2="288.7" stroke="#ea6e48" stroke-width="0.75"/>
<rect x="525.90" y="279.0" width="2.6" height="5.5" fill="#e4501f"/>
<line x1="530.40" y1="283.5" x2="530.40" y2="304.5" stroke="#ea6e48" stroke-width="0.75"/>
<rect x="529.10" y="284.1" width="2.6" height="18.2" fill="#e4501f"/>
<line x1="533.60" y1="291.3" x2="533.60" y2="304.0" stroke="#3f606d" stroke-width="0.75"/>
<rect x="532.30" y="298.9" width="2.6" height="3.4" fill="#0f3a4a"/>
<line x1="536.80" y1="278.5" x2="536.80" y2="299.8" stroke="#3f606d" stroke-width="0.75"/>
<rect x="535.50" y="280.7" width="2.6" height="18.2" fill="#0f3a4a"/>
<line x1="540.00" y1="249.6" x2="540.00" y2="282.8" stroke="#3f606d" stroke-width="0.75"/>
<rect x="538.70" y="251.3" width="2.6" height="29.8" fill="#0f3a4a"/>
<line x1="543.20" y1="228.0" x2="543.20" y2="252.5" stroke="#3f606d" stroke-width="0.75"/>
<rect x="541.90" y="228.9" width="2.6" height="22.9" fill="#0f3a4a"/>
<line x1="546.40" y1="193.2" x2="546.40" y2="235.1" stroke="#3f606d" stroke-width="0.75"/>
<rect x="545.10" y="201.7" width="2.6" height="28.1" fill="#0f3a4a"/>
<line x1="549.60" y1="153.5" x2="549.60" y2="201.2" stroke="#3f606d" stroke-width="0.75"/>
<rect x="548.30" y="162.0" width="2.6" height="36.3" fill="#0f3a4a"/>
<line x1="552.80" y1="145.0" x2="552.80" y2="203.4" stroke="#ea6e48" stroke-width="0.75"/>
<rect x="551.50" y="162.0" width="2.6" height="22.7" fill="#e4501f"/>
<line x1="556.00" y1="183.8" x2="556.00" y2="233.0" stroke="#ea6e48" stroke-width="0.75"/>
<rect x="554.70" y="184.7" width="2.6" height="18.7" fill="#e4501f"/>
<line x1="559.20" y1="180.4" x2="559.20" y2="204.5" stroke="#3f606d" stroke-width="0.75"/>
<rect x="557.90" y="184.7" width="2.6" height="19.2" fill="#0f3a4a"/>
<line x1="562.40" y1="183.8" x2="562.40" y2="221.3" stroke="#ea6e48" stroke-width="0.75"/>
<rect x="561.10" y="184.7" width="2.6" height="19.9" fill="#e4501f"/>
<line x1="565.60" y1="176.2" x2="565.60" y2="251.8" stroke="#ea6e48" stroke-width="0.75"/>
<rect x="564.30" y="204.3" width="2.6" height="29.1" fill="#e4501f"/>
<line x1="568.80" y1="215.3" x2="568.80" y2="250.0" stroke="#3f606d" stroke-width="0.75"/>
<rect x="567.50" y="225.5" width="2.6" height="7.5" fill="#0f3a4a"/>
<line x1="572.00" y1="208.5" x2="572.00" y2="231.5" stroke="#3f606d" stroke-width="0.75"/>
<rect x="570.70" y="211.9" width="2.6" height="14.5" fill="#0f3a4a"/>
<line x1="575.20" y1="212.0" x2="575.20" y2="253.8" stroke="#ea6e48" stroke-width="0.75"/>
<rect x="573.90" y="212.4" width="2.6" height="14.0" fill="#e4501f"/>
<line x1="578.40" y1="219.6" x2="578.40" y2="248.7" stroke="#ea6e48" stroke-width="0.75"/>
<rect x="577.10" y="226.7" width="2.6" height="19.0" fill="#e4501f"/>
<line x1="581.60" y1="226.4" x2="581.60" y2="250.4" stroke="#3f606d" stroke-width="0.75"/>
<rect x="580.30" y="232.4" width="2.6" height="13.3" fill="#0f3a4a"/>
<line x1="584.80" y1="158.0" x2="584.80" y2="234.0" stroke="#3f606d" stroke-width="0.75"/>
<rect x="583.50" y="165.0" width="2.6" height="68.1" fill="#0f3a4a"/>
<line x1="588.00" y1="155.5" x2="588.00" y2="177.0" stroke="#ea6e48" stroke-width="0.75"/>
<rect x="586.70" y="165.0" width="2.6" height="6.9" fill="#e4501f"/>
<line x1="591.20" y1="163.2" x2="591.20" y2="190.3" stroke="#ea6e48" stroke-width="0.75"/>
<rect x="589.90" y="171.6" width="2.6" height="8.0" fill="#e4501f"/>
<line x1="594.40" y1="177.9" x2="594.40" y2="208.5" stroke="#ea6e48" stroke-width="0.75"/>
<rect x="593.10" y="179.6" width="2.6" height="8.5" fill="#e4501f"/>
<line x1="597.60" y1="183.8" x2="597.60" y2="210.2" stroke="#ea6e48" stroke-width="0.75"/>
<rect x="596.30" y="188.1" width="2.6" height="14.1" fill="#e4501f"/>
<line x1="600.80" y1="197.4" x2="600.80" y2="220.4" stroke="#ea6e48" stroke-width="0.75"/>
<rect x="599.50" y="201.7" width="2.6" height="1.7" fill="#e4501f"/>
<line x1="604.00" y1="194.0" x2="604.00" y2="255.2" stroke="#ea6e48" stroke-width="0.75"/>
<rect x="602.70" y="202.9" width="2.6" height="36.0" fill="#e4501f"/>
<line x1="607.20" y1="219.6" x2="607.20" y2="253.5" stroke="#3f606d" stroke-width="0.75"/>
<rect x="605.90" y="221.6" width="2.6" height="17.3" fill="#0f3a4a"/>
<line x1="610.40" y1="192.3" x2="610.40" y2="223.0" stroke="#3f606d" stroke-width="0.75"/>
<rect x="609.10" y="195.7" width="2.6" height="26.4" fill="#0f3a4a"/>
<line x1="613.60" y1="190.6" x2="613.60" y2="230.6" stroke="#ea6e48" stroke-width="0.75"/>
<rect x="612.30" y="195.7" width="2.6" height="21.3" fill="#e4501f"/>
<line x1="616.80" y1="205.1" x2="616.80" y2="270.0" stroke="#ea6e48" stroke-width="0.75"/>
<rect x="615.50" y="217.0" width="2.6" height="43.3" fill="#e4501f"/>
<line x1="620.00" y1="259.5" x2="620.00" y2="313.8" stroke="#ea6e48" stroke-width="0.75"/>
<rect x="618.70" y="260.3" width="2.6" height="17.0" fill="#e4501f"/>
<line x1="623.20" y1="258.6" x2="623.20" y2="280.7" stroke="#3f606d" stroke-width="0.75"/>
<rect x="621.90" y="267.8" width="2.6" height="9.5" fill="#0f3a4a"/>
<line x1="626.40" y1="254.2" x2="626.40" y2="277.7" stroke="#3f606d" stroke-width="0.75"/>
<rect x="625.10" y="258.6" width="2.6" height="9.7" fill="#0f3a4a"/>
<line x1="629.60" y1="257.2" x2="629.60" y2="290.4" stroke="#ea6e48" stroke-width="0.75"/>
<rect x="628.30" y="258.6" width="2.6" height="22.8" fill="#e4501f"/>
<line x1="632.80" y1="276.3" x2="632.80" y2="310.8" stroke="#ea6e48" stroke-width="0.75"/>
<rect x="631.50" y="281.4" width="2.6" height="19.7" fill="#e4501f"/>
<line x1="636.00" y1="288.7" x2="636.00" y2="301.5" stroke="#3f606d" stroke-width="0.75"/>
<rect x="634.70" y="293.8" width="2.6" height="6.8" fill="#0f3a4a"/>
<line x1="639.20" y1="270.0" x2="639.20" y2="302.8" stroke="#3f606d" stroke-width="0.75"/>
<rect x="637.90" y="275.1" width="2.6" height="18.7" fill="#0f3a4a"/>
<line x1="642.40" y1="262.3" x2="642.40" y2="279.0" stroke="#3f606d" stroke-width="0.75"/>
<rect x="641.10" y="267.9" width="2.6" height="7.6" fill="#0f3a4a"/>
<line x1="645.60" y1="266.6" x2="645.60" y2="297.2" stroke="#ea6e48" stroke-width="0.75"/>
<rect x="644.30" y="267.9" width="2.6" height="19.1" fill="#e4501f"/>
<line x1="648.80" y1="280.6" x2="648.80" y2="295.4" stroke="#3f606d" stroke-width="0.75"/>
<rect x="647.50" y="285.0" width="2.6" height="1.9" fill="#0f3a4a"/>
<line x1="652.00" y1="261.5" x2="652.00" y2="286.2" stroke="#3f606d" stroke-width="0.75"/>
<rect x="650.70" y="263.2" width="2.6" height="22.5" fill="#0f3a4a"/>
<line x1="655.20" y1="258.1" x2="655.20" y2="286.2" stroke="#ea6e48" stroke-width="0.75"/>
<rect x="653.90" y="262.9" width="2.6" height="19.4" fill="#e4501f"/>
<line x1="658.40" y1="263.2" x2="658.40" y2="289.1" stroke="#ea6e48" stroke-width="0.75"/>
<rect x="657.10" y="282.0" width="2.6" height="2.5" fill="#e4501f"/>
<line x1="661.60" y1="217.3" x2="661.60" y2="293.0" stroke="#3f606d" stroke-width="0.75"/>
<rect x="660.30" y="224.1" width="2.6" height="60.4" fill="#0f3a4a"/>
<line x1="664.80" y1="201.1" x2="664.80" y2="237.0" stroke="#ea6e48" stroke-width="0.75"/>
<rect x="663.50" y="224.1" width="2.6" height="10.2" fill="#e4501f"/>
<line x1="668.00" y1="196.9" x2="668.00" y2="234.2" stroke="#3f606d" stroke-width="0.75"/>
<rect x="666.70" y="209.7" width="2.6" height="23.8" fill="#0f3a4a"/>
<line x1="671.20" y1="174.8" x2="671.20" y2="217.3" stroke="#3f606d" stroke-width="0.75"/>
<rect x="669.90" y="178.2" width="2.6" height="31.5" fill="#0f3a4a"/>
<line x1="674.40" y1="146.1" x2="674.40" y2="196.0" stroke="#3f606d" stroke-width="0.75"/>
<rect x="673.10" y="154.1" width="2.6" height="24.6" fill="#0f3a4a"/>
<line x1="677.60" y1="151.6" x2="677.60" y2="197.7" stroke="#ea6e48" stroke-width="0.75"/>
<rect x="676.30" y="154.1" width="2.6" height="11.6" fill="#e4501f"/>
<line x1="680.80" y1="143.9" x2="680.80" y2="229.7" stroke="#ea6e48" stroke-width="0.75"/>
<rect x="679.50" y="166.0" width="2.6" height="48.8" fill="#e4501f"/>
<line x1="684.00" y1="191.8" x2="684.00" y2="219.9" stroke="#3f606d" stroke-width="0.75"/>
<rect x="682.70" y="208.8" width="2.6" height="6.0" fill="#0f3a4a"/>
<line x1="687.20" y1="180.7" x2="687.20" y2="212.2" stroke="#3f606d" stroke-width="0.75"/>
<rect x="685.90" y="183.3" width="2.6" height="25.5" fill="#0f3a4a"/>
<line x1="690.40" y1="174.8" x2="690.40" y2="225.0" stroke="#ea6e48" stroke-width="0.75"/>
<rect x="689.10" y="183.3" width="2.6" height="32.8" fill="#e4501f"/>
<line x1="693.60" y1="193.5" x2="693.60" y2="245.4" stroke="#ea6e48" stroke-width="0.75"/>
<rect x="692.30" y="216.1" width="2.6" height="3.4" fill="#e4501f"/>
<line x1="696.80" y1="199.4" x2="696.80" y2="226.7" stroke="#3f606d" stroke-width="0.75"/>
<rect x="695.50" y="213.1" width="2.6" height="6.4" fill="#0f3a4a"/>
<line x1="700.00" y1="201.1" x2="700.00" y2="247.5" stroke="#ea6e48" stroke-width="0.75"/>
<rect x="698.70" y="213.1" width="2.6" height="33.5" fill="#e4501f"/>
<line x1="703.20" y1="246.0" x2="703.20" y2="314.6" stroke="#ea6e48" stroke-width="0.75"/>
<rect x="701.90" y="246.6" width="2.6" height="30.6" fill="#e4501f"/>
<line x1="706.40" y1="264.9" x2="706.40" y2="279.4" stroke="#3f606d" stroke-width="0.75"/>
<rect x="705.10" y="265.3" width="2.6" height="11.9" fill="#0f3a4a"/>
<line x1="709.60" y1="251.7" x2="709.60" y2="272.6" stroke="#3f606d" stroke-width="0.75"/>
<rect x="708.30" y="255.1" width="2.6" height="10.7" fill="#0f3a4a"/>
<line x1="712.80" y1="251.3" x2="712.80" y2="316.3" stroke="#ea6e48" stroke-width="0.75"/>
<rect x="711.50" y="255.1" width="2.6" height="24.3" fill="#e4501f"/>
<line x1="716.00" y1="276.9" x2="716.00" y2="323.9" stroke="#ea6e48" stroke-width="0.75"/>
<rect x="714.70" y="279.4" width="2.6" height="41.1" fill="#e4501f"/>
<line x1="719.20" y1="311.1" x2="719.20" y2="344.8" stroke="#ea6e48" stroke-width="0.75"/>
<rect x="717.90" y="320.5" width="2.6" height="12.7" fill="#e4501f"/>
<line x1="722.40" y1="317.9" x2="722.40" y2="334.6" stroke="#3f606d" stroke-width="0.75"/>
<rect x="721.10" y="324.7" width="2.6" height="8.5" fill="#0f3a4a"/>
<line x1="725.60" y1="315.4" x2="725.60" y2="342.1" stroke="#ea6e48" stroke-width="0.75"/>
<rect x="724.30" y="324.7" width="2.6" height="15.7" fill="#e4501f"/>
<line x1="728.80" y1="328.1" x2="728.80" y2="362.0" stroke="#ea6e48" stroke-width="0.75"/>
<rect x="727.50" y="340.0" width="2.6" height="21.3" fill="#e4501f"/>
<line x1="732.00" y1="351.1" x2="732.00" y2="376.6" stroke="#3f606d" stroke-width="0.75"/>
<rect x="730.70" y="359.1" width="2.6" height="1.7" fill="#0f3a4a"/>
<line x1="735.20" y1="351.1" x2="735.20" y2="363.9" stroke="#ea6e48" stroke-width="0.75"/>
<rect x="733.90" y="359.1" width="2.6" height="1.3" fill="#e4501f"/>
<line x1="738.40" y1="335.8" x2="738.40" y2="363.9" stroke="#3f606d" stroke-width="0.75"/>
<rect x="737.10" y="340.9" width="2.6" height="18.7" fill="#0f3a4a"/>
<line x1="741.60" y1="334.9" x2="741.60" y2="346.5" stroke="#3f606d" stroke-width="0.75"/>
<rect x="740.30" y="338.0" width="2.6" height="2.9" fill="#0f3a4a"/>
<line x1="744.80" y1="271.7" x2="744.80" y2="345.5" stroke="#3f606d" stroke-width="0.75"/>
<rect x="743.50" y="280.3" width="2.6" height="58.0" fill="#0f3a4a"/>
<line x1="748.00" y1="261.2" x2="748.00" y2="296.4" stroke="#ea6e48" stroke-width="0.75"/>
<rect x="746.70" y="280.3" width="2.6" height="10.5" fill="#e4501f"/>
<line x1="751.20" y1="261.5" x2="751.20" y2="294.2" stroke="#3f606d" stroke-width="0.75"/>
<rect x="749.90" y="279.4" width="2.6" height="11.4" fill="#0f3a4a"/>
<line x1="754.40" y1="256.8" x2="754.40" y2="283.7" stroke="#3f606d" stroke-width="0.75"/>
<rect x="753.10" y="279.2" width="2.6" height="1.0" fill="#0f3a4a"/>
<line x1="757.60" y1="266.3" x2="757.60" y2="291.3" stroke="#3f606d" stroke-width="0.75"/>
<rect x="756.30" y="278.8" width="2.6" height="0.9" fill="#0f3a4a"/>
<line x1="760.80" y1="249.3" x2="760.80" y2="286.7" stroke="#ea6e48" stroke-width="0.75"/>
<rect x="759.50" y="278.9" width="2.6" height="2.7" fill="#e4501f"/>
<line x1="764.00" y1="265.8" x2="764.00" y2="314.2" stroke="#ea6e48" stroke-width="0.75"/>
<rect x="762.70" y="281.1" width="2.6" height="27.4" fill="#e4501f"/>
<line x1="767.20" y1="281.1" x2="767.20" y2="309.0" stroke="#3f606d" stroke-width="0.75"/>
<rect x="765.90" y="287.1" width="2.6" height="21.4" fill="#0f3a4a"/>
<line x1="770.40" y1="270.0" x2="770.40" y2="292.2" stroke="#3f606d" stroke-width="0.75"/>
<rect x="769.10" y="277.7" width="2.6" height="10.2" fill="#0f3a4a"/>
<line x1="773.60" y1="235.2" x2="773.60" y2="280.3" stroke="#3f606d" stroke-width="0.75"/>
<rect x="772.30" y="239.0" width="2.6" height="38.7" fill="#0f3a4a"/>
<line x1="776.80" y1="168.5" x2="776.80" y2="243.7" stroke="#3f606d" stroke-width="0.75"/>
<rect x="775.50" y="174.3" width="2.6" height="65.1" fill="#0f3a4a"/>
<line x1="780.00" y1="163.7" x2="780.00" y2="195.2" stroke="#3f606d" stroke-width="0.75"/>
<rect x="778.70" y="168.8" width="2.6" height="7.2" fill="#0f3a4a"/>
<line x1="783.20" y1="158.4" x2="783.20" y2="208.8" stroke="#ea6e48" stroke-width="0.75"/>
<rect x="781.90" y="168.8" width="2.6" height="28.1" fill="#e4501f"/>
<line x1="786.40" y1="125.2" x2="786.40" y2="197.5" stroke="#3f606d" stroke-width="0.75"/>
<rect x="785.10" y="134.9" width="2.6" height="62.0" fill="#0f3a4a"/>
<line x1="789.60" y1="85.8" x2="789.60" y2="138.8" stroke="#3f606d" stroke-width="0.75"/>
<rect x="788.30" y="113.3" width="2.6" height="21.6" fill="#0f3a4a"/>
<line x1="792.80" y1="71.8" x2="792.80" y2="148.2" stroke="#3f606d" stroke-width="0.75"/>
<rect x="791.50" y="86.2" width="2.6" height="27.1" fill="#0f3a4a"/>
<line x1="796.00" y1="83.2" x2="796.00" y2="130.3" stroke="#ea6e48" stroke-width="0.75"/>
<rect x="794.70" y="86.2" width="2.6" height="28.3" fill="#e4501f"/>
<line x1="799.20" y1="111.1" x2="799.20" y2="135.4" stroke="#ea6e48" stroke-width="0.75"/>
<rect x="797.90" y="114.5" width="2.6" height="13.6" fill="#e4501f"/>
<line x1="802.40" y1="88.0" x2="802.40" y2="129.1" stroke="#3f606d" stroke-width="0.75"/>
<rect x="801.10" y="100.5" width="2.6" height="27.6" fill="#0f3a4a"/>
<line x1="805.60" y1="96.0" x2="805.60" y2="117.5" stroke="#ea6e48" stroke-width="0.75"/>
<rect x="804.30" y="100.5" width="2.6" height="12.8" fill="#e4501f"/>
<line x1="808.80" y1="112.0" x2="808.80" y2="168.0" stroke="#ea6e48" stroke-width="0.75"/>
<rect x="807.50" y="112.8" width="2.6" height="37.1" fill="#e4501f"/>
<line x1="812.00" y1="100.1" x2="812.00" y2="150.2" stroke="#3f606d" stroke-width="0.75"/>
<rect x="810.70" y="111.1" width="2.6" height="38.4" fill="#0f3a4a"/>
<line x1="815.20" y1="89.0" x2="815.20" y2="204.6" stroke="#ea6e48" stroke-width="0.75"/>
<rect x="813.90" y="110.8" width="2.6" height="57.4" fill="#e4501f"/>
</g>
<line x1="0" y1="168.5" x2="904.6" y2="168.5" stroke="#f7c3b1" stroke-width="0.5" stroke-dasharray="1 1"/>
<line x1="98" y1="23.3" x2="893" y2="23.3" stroke="#9598a1" stroke-width="0.7" stroke-dasharray="2.3 3.45"/>
<line x1="0" y1="23.3" x2="2" y2="23.3" stroke="#9598a1" stroke-width="0.7"/>
<line x1="853.8" y1="0" x2="853.8" y2="418" stroke="#a3a6af" stroke-width="0.75" stroke-dasharray="2.3 3.45"/>
<path d="M844.1 9.3L851.3 30.6L845.1 28.2Q842 56.8 827.5 81.6L835.5 25.2L828.6 25.9Z" fill="#45a54a"/>
<path d="M830.6 188.3Q843.7 211.6 849.3 237.6L853.8 235.5L848 255L832.5 241.5L838.3 240Z" fill="#f0313f"/>
<text x="934.0" y="411.0" font-size="6.4" fill="#131722" text-anchor="end" font-weight="400" textLength="24.6" lengthAdjust="spacingAndGlyphs">1,000.00</text>
<text x="934.0" y="394.0" font-size="6.4" fill="#131722" text-anchor="end" font-weight="400" textLength="24.6" lengthAdjust="spacingAndGlyphs">1,200.00</text>
<text x="934.0" y="376.9" font-size="6.4" fill="#131722" text-anchor="end" font-weight="400" textLength="24.6" lengthAdjust="spacingAndGlyphs">1,400.00</text>
<text x="934.0" y="359.9" font-size="6.4" fill="#131722" text-anchor="end" font-weight="400" textLength="24.6" lengthAdjust="spacingAndGlyphs">1,600.00</text>
<text x="934.0" y="342.8" font-size="6.4" fill="#131722" text-anchor="end" font-weight="400" textLength="24.6" lengthAdjust="spacingAndGlyphs">1,800.00</text>
<text x="934.0" y="325.8" font-size="6.4" fill="#131722" text-anchor="end" font-weight="400" textLength="24.6" lengthAdjust="spacingAndGlyphs">2,000.00</text>
<text x="934.0" y="308.8" font-size="6.4" fill="#131722" text-anchor="end" font-weight="400" textLength="24.6" lengthAdjust="spacingAndGlyphs">2,200.00</text>
<text x="934.0" y="291.7" font-size="6.4" fill="#131722" text-anchor="end" font-weight="400" textLength="24.6" lengthAdjust="spacingAndGlyphs">2,400.00</text>
<text x="934.0" y="274.7" font-size="6.4" fill="#131722" text-anchor="end" font-weight="400" textLength="24.6" lengthAdjust="spacingAndGlyphs">2,600.00</text>
<text x="934.0" y="257.7" font-size="6.4" fill="#131722" text-anchor="end" font-weight="400" textLength="24.6" lengthAdjust="spacingAndGlyphs">2,800.00</text>
<text x="934.0" y="240.6" font-size="6.4" fill="#131722" text-anchor="end" font-weight="400" textLength="24.6" lengthAdjust="spacingAndGlyphs">3,000.00</text>
<text x="934.0" y="206.6" font-size="6.4" fill="#131722" text-anchor="end" font-weight="400" textLength="24.6" lengthAdjust="spacingAndGlyphs">3,400.00</text>
<text x="934.0" y="155.5" font-size="6.4" fill="#131722" text-anchor="end" font-weight="400" textLength="24.6" lengthAdjust="spacingAndGlyphs">4,000.00</text>
<text x="934.0" y="138.4" font-size="6.4" fill="#131722" text-anchor="end" font-weight="400" textLength="24.6" lengthAdjust="spacingAndGlyphs">4,200.00</text>
<text x="934.0" y="121.4" font-size="6.4" fill="#131722" text-anchor="end" font-weight="400" textLength="24.6" lengthAdjust="spacingAndGlyphs">4,400.00</text>
<text x="934.0" y="104.3" font-size="6.4" fill="#131722" text-anchor="end" font-weight="400" textLength="24.6" lengthAdjust="spacingAndGlyphs">4,600.00</text>
<text x="934.0" y="70.3" font-size="6.4" fill="#131722" text-anchor="end" font-weight="400" textLength="24.6" lengthAdjust="spacingAndGlyphs">5,000.00</text>
<text x="934.0" y="53.2" font-size="6.4" fill="#131722" text-anchor="end" font-weight="400" textLength="24.6" lengthAdjust="spacingAndGlyphs">5,200.00</text>
<text x="934.0" y="36.2" font-size="6.4" fill="#131722" text-anchor="end" font-weight="400" textLength="24.6" lengthAdjust="spacingAndGlyphs">5,400.00</text>
<rect x="893.7" y="18.4" width="10.6" height="10.2" fill="#131722"/>
<circle cx="899" cy="23.5" r="2.9" fill="none" stroke="#fff" stroke-width="0.6"/><path d="M897.4 23.5h3.2M899 21.9v3.2" stroke="#fff" stroke-width="0.6"/>
<rect x="905.3" y="18.4" width="30.9" height="10.2" fill="#131722"/>
<text x="934.0" y="25.8" font-size="6.4" fill="#fff" text-anchor="end" font-weight="700" textLength="24.6" lengthAdjust="spacingAndGlyphs">5,522.11</text>
<rect x="905.2" y="80.3" width="30.8" height="8.8" fill="#2962ff"/>
<text x="934.0" y="87.0" font-size="6.4" fill="#fff" text-anchor="end" font-weight="700" textLength="24.6" lengthAdjust="spacingAndGlyphs">4,800.00</text>
<rect x="905.2" y="164.5" width="30.8" height="15.8" fill="#e4501f"/>
<text x="933.6" y="171.2" font-size="6.4" fill="#fff" text-anchor="end" font-weight="700" textLength="24.2" lengthAdjust="spacingAndGlyphs">3,823.89</text>
<text x="933.6" y="177.8" font-size="6.4" fill="#fbe0d6" text-anchor="end" font-weight="400" textLength="24.2" lengthAdjust="spacingAndGlyphs">09:24:52</text>
<rect x="905.2" y="180.3" width="30.8" height="8.8" fill="#2962ff"/>
<text x="934.0" y="186.9" font-size="6.4" fill="#fff" text-anchor="end" font-weight="700" textLength="24.6" lengthAdjust="spacingAndGlyphs">3,750.00</text>
<rect x="905.2" y="214.5" width="30.8" height="8.6" fill="#2962ff"/>
<text x="934.0" y="221.0" font-size="6.4" fill="#fff" text-anchor="end" font-weight="700" textLength="24.6" lengthAdjust="spacingAndGlyphs">3,238.35</text>
<rect x="906.3" y="2.9" width="30.3" height="12.1" rx="1.5" fill="#fff" stroke="#e0e3eb" stroke-width="0.6"/>
<text x="908.9" y="11.6" font-size="6.7" fill="#131722" text-anchor="start" font-weight="400" textLength="11.2" lengthAdjust="spacingAndGlyphs">USD</text>
<path d="M931.2 8.6l1.7 1.8l1.7-1.8z" fill="#131722"/>
<line x1="939" y1="0" x2="939" y2="435" stroke="#e6e8ee" stroke-width="0.8"/>
<line x1="0" y1="0.4" x2="940" y2="0.4" stroke="#e9ebf0" stroke-width="0.8"/>
<line x1="0" y1="433.3" x2="940" y2="433.3" stroke="#e6e8ee" stroke-width="0.8"/>
<text x="20.8" y="428.0" font-size="6.4" fill="#131722" text-anchor="middle" font-weight="400" textLength="13.6" lengthAdjust="spacingAndGlyphs">2021</text>
<text x="104.5" y="428.0" font-size="6.4" fill="#131722" text-anchor="middle" font-weight="400" textLength="8.2" lengthAdjust="spacingAndGlyphs">Jul</text>
<text x="187.4" y="428.0" font-size="6.4" fill="#131722" text-anchor="middle" font-weight="400" textLength="13.6" lengthAdjust="spacingAndGlyphs">2022</text>
<text x="270.6" y="428.0" font-size="6.4" fill="#131722" text-anchor="middle" font-weight="400" textLength="8.2" lengthAdjust="spacingAndGlyphs">Jul</text>
<text x="354.0" y="428.0" font-size="6.4" fill="#131722" text-anchor="middle" font-weight="400" textLength="13.6" lengthAdjust="spacingAndGlyphs">2023</text>
<text x="437.3" y="428.0" font-size="6.4" fill="#131722" text-anchor="middle" font-weight="400" textLength="8.2" lengthAdjust="spacingAndGlyphs">Jul</text>
<text x="520.7" y="428.0" font-size="6.4" fill="#131722" text-anchor="middle" font-weight="400" textLength="13.6" lengthAdjust="spacingAndGlyphs">2024</text>
<text x="604.0" y="428.0" font-size="6.4" fill="#131722" text-anchor="middle" font-weight="400" textLength="8.2" lengthAdjust="spacingAndGlyphs">Jul</text>
<text x="690.0" y="428.0" font-size="6.4" fill="#131722" text-anchor="middle" font-weight="400" textLength="13.6" lengthAdjust="spacingAndGlyphs">2025</text>
<text x="773.3" y="428.0" font-size="6.4" fill="#131722" text-anchor="middle" font-weight="400" textLength="8.2" lengthAdjust="spacingAndGlyphs">Jul</text>
<rect x="828.9" y="418" width="50.1" height="12.7" rx="1" fill="#131722"/>
<text x="853.5" y="428.0" font-size="6.4" fill="#fff" text-anchor="middle" font-weight="700" textLength="41.5" lengthAdjust="spacingAndGlyphs">Mon 29 Dec '25</text>
<circle cx="922.1" cy="425.6" r="3.1" fill="none" stroke="#50535e" stroke-width="0.7"/><circle cx="922.1" cy="425.6" r="1.1" fill="none" stroke="#50535e" stroke-width="0.6"/>
<circle cx="7.4" cy="9.0" r="4.4" fill="#d8efe8"/><circle cx="7.4" cy="9.0" r="2.5" fill="#0a8f74"/>
<text x="15.8" y="11.5" font-size="7" fill="#131722" text-anchor="start" font-weight="400" textLength="4.4" lengthAdjust="spacingAndGlyphs">O</text>
<text x="20.4" y="11.5" font-size="7" fill="#e4501f" text-anchor="start" font-weight="400" textLength="27.3" lengthAdjust="spacingAndGlyphs">4,496.89</text>
<text x="51.0" y="11.5" font-size="7" fill="#131722" text-anchor="start" font-weight="400" textLength="4.2" lengthAdjust="spacingAndGlyphs">H</text>
<text x="55.3" y="11.5" font-size="7" fill="#e4501f" text-anchor="start" font-weight="400" textLength="27.0" lengthAdjust="spacingAndGlyphs">4,754.40</text>
<text x="85.1" y="11.5" font-size="7" fill="#131722" text-anchor="start" font-weight="400" textLength="3.2" lengthAdjust="spacingAndGlyphs">L</text>
<text x="88.5" y="11.5" font-size="7" fill="#e4501f" text-anchor="start" font-weight="400" textLength="26.6" lengthAdjust="spacingAndGlyphs">3,396.06</text>
<text x="118.7" y="11.5" font-size="7" fill="#131722" text-anchor="start" font-weight="400" textLength="4.2" lengthAdjust="spacingAndGlyphs">C</text>
<text x="123.0" y="11.5" font-size="7" fill="#e4501f" text-anchor="start" font-weight="400" textLength="26.4" lengthAdjust="spacingAndGlyphs">3,823.89</text>
<text x="152.8" y="11.5" font-size="7" fill="#e4501f" text-anchor="start" font-weight="400" textLength="22.9" lengthAdjust="spacingAndGlyphs">−672.92</text>
<text x="178.3" y="11.5" font-size="7" fill="#e4501f" text-anchor="start" font-weight="400" textLength="28.9" lengthAdjust="spacingAndGlyphs">(−14.96%)</text>
<rect x="2.2" y="17.2" width="38.2" height="17.3" rx="2.2" fill="#fff" stroke="#f23645" stroke-width="0.6"/>
<text x="21.1" y="24.8" font-size="6.6" fill="#f23645" text-anchor="middle" font-weight="400" textLength="25.8" lengthAdjust="spacingAndGlyphs">3,824.21</text>
<text x="21.2" y="31.8" font-size="5.6" fill="#f23645" text-anchor="middle" font-weight="400" textLength="11.9" lengthAdjust="spacingAndGlyphs">SELL</text>
<text x="49.8" y="27.6" font-size="5.2" fill="#131722" text-anchor="middle" font-weight="400" textLength="10.0" lengthAdjust="spacingAndGlyphs">3.04</text>
<rect x="58.8" y="17.2" width="38.1" height="17.3" rx="2.2" fill="#fff" stroke="#2962ff" stroke-width="0.6"/>
<text x="78.1" y="24.8" font-size="6.6" fill="#2962ff" text-anchor="middle" font-weight="400" textLength="25.8" lengthAdjust="spacingAndGlyphs">3,827.25</text>
<text x="78.0" y="31.8" font-size="5.6" fill="#2962ff" text-anchor="middle" font-weight="400" textLength="10.1" lengthAdjust="spacingAndGlyphs">BUY</text>
<text x="3.0" y="46.0" font-size="6.9" fill="#131722" text-anchor="start" font-weight="400" textLength="38.4" lengthAdjust="spacingAndGlyphs">EMA 50 close</text>
<circle cx="50.3" cy="43.3" r="4.3" fill="#ebe3fd"/><circle cx="50.3" cy="43.3" r="2.6" fill="none" stroke="#6a2cf5" stroke-width="1.4"/>
<path d="M51.6 41.9l1.6-1.4M49.0 44.7l-1.6 1.4" stroke="#ebe3fd" stroke-width="0.8"/>
<text x="59.6" y="46.0" font-size="6.9" fill="#2f62f0" text-anchor="start" font-weight="400" textLength="26.0" lengthAdjust="spacingAndGlyphs">3,238.35</text>
<rect x="2.4" y="51.4" width="15.1" height="9.9" rx="1.3" fill="#fff" stroke="#dcdfe6" stroke-width="0.6"/>
<path d="M8.2 57.6l1.8-1.9l1.8 1.9" fill="none" stroke="#131722" stroke-width="1.0"/>
<g fill="#131722"><path d="M4.5 403.3h6.1v7.7h-3v-4.7h-3.1z"/><circle cx="13" cy="404.8" r="1.5"/><path d="M16.3 403.3h3.4l-3.2 7.7h-3.4z"/></g>
<text x="25.0" y="411.0" font-size="10.4" fill="#131722" text-anchor="start" font-weight="400" textLength="61.5" lengthAdjust="spacingAndGlyphs" stroke="#131722" stroke-width="0.38">TradingView</text>
<circle cx="815.3" cy="398.7" r="5.2" fill="#fff" stroke="#a33fc9" stroke-width="1.1"/>
<path d="M816.9 395.4L813.5 399.4h2.1L813.9 402.2L817.5 398.0h-2.1Z" fill="#8e24c2"/>
<circle cx="809.7" cy="400.5" r="2.7" fill="#fff"/>
<path d="M809.7 397.8l0.8 1.9l1.9 0.8l-1.9 0.8l-0.8 1.9l-0.8-1.9l-1.9-0.8l1.9-0.8z" fill="#5b3df5"/>
<circle cx="819.7" cy="411.5" r="5.2" fill="#fff" stroke="#f0404f" stroke-width="0.9"/>
<path d="M817.2 409.3h6.2M817 411.5h7.0M817.2 413.7h6.0" stroke="#f23645" stroke-width="1.1" stroke-dasharray="1.5 1.1"/>
<circle cx="814.7" cy="411.5" r="5.2" fill="#fff" stroke="#f0404f" stroke-width="0.9"/>
<clipPath id="fc"><circle cx="814.7" cy="411.5" r="4.0"/></clipPath><g clip-path="url(#fc)"><rect x="809" y="406" width="12" height="11" fill="#fff"/><path d="M809 408.1h12M809 410.0h12M809 411.9h12M809 413.8h12M809 415.7h12" stroke="#f23645" stroke-width="1.0"/><rect x="809" y="406" width="7.6" height="6.7" fill="#3d8bf0"/></g>
</svg></body></html>
